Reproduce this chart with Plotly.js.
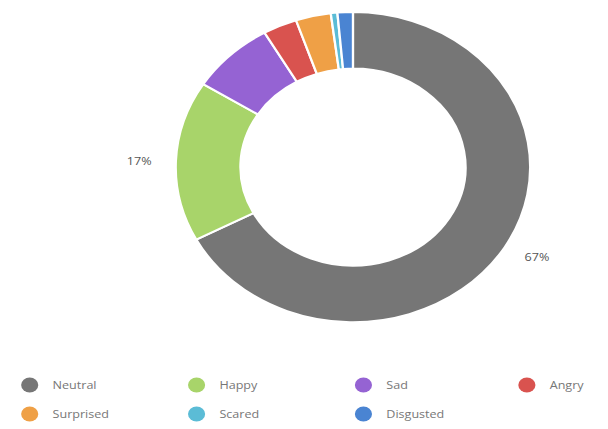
<!DOCTYPE html>
<html>
<head>
<meta charset="utf-8">
<script src="https://cdn.plot.ly/plotly-3.0.1.min.js"></script>
<style>
html,body{margin:0;padding:0;background:#fff;overflow:hidden;}
#chart{width:532px;height:429px;transform:scaleX(1.1429);transform-origin:0 0;}
</style>
</head>
<body>
<div id="chart"></div>
<script>
const labels = ["Neutral","Happy","Sad","Angry","Surprised","Scared","Disgusted"];
const values = [67.2,16.7,7.7,3.1,3.2,0.6,1.4];
const colors = ["#767676","#a8d46a","#9563d3","#d9534f","#efa046","#5bbcd6","#4a84d2"];
const showPct = [true,true,false,false,false,false,false];
// legend grid: column and row of each entry
const legCol = [0,1,2,3,0,1,2];
const legRow = [0,0,0,0,1,1,1];

const W = 532, H = 429;
const dom = {x:[0.289,0.872], y:[0.248,0.973]};
const pie = {
  type:"pie", labels:labels, values:values, sort:false, direction:"clockwise", rotation:0,
  hole:0.635,
  marker:{colors:colors, line:{color:"#ffffff", width:2}},
  textinfo:"none",
  showlegend:false, hoverinfo:"skip",
  domain:dom
};
const legendTraces = labels.map((l,i) => ({
  type:"scatter", mode:"markers", x:[null], y:[null], name:l,
  marker:{color:colors[i], size:15, symbol:"circle"},
  legend: i === 0 ? "legend" : "legend" + (i+1), hoverinfo:"skip"
}));

const layout = {
  width:W, height:H, margin:{l:0,r:0,t:0,b:0},
  paper_bgcolor:"#fff", plot_bgcolor:"#fff",
  xaxis:{visible:false}, yaxis:{visible:false},
  showlegend:true, annotations:[]
};
const colX = [26,172,318,461], rowY = [385,414];
labels.forEach((l,i) => {
  const key = i === 0 ? "legend" : "legend" + (i+1);
  layout[key] = {orientation:"h", xanchor:"left", yanchor:"middle",
    x:(colX[legCol[i]] - 20)/W, y:1 - rowY[legRow[i]]/H,
    font:{family:"Open Sans, sans-serif", size:11, color:"#777"},
    bgcolor:"rgba(0,0,0,0)"};
});

// percentage labels placed outside the mid-angle of each slice
const total = values.reduce((a,b)=>a+b,0);
const cx = (dom.x[0]+dom.x[1])/2*W, cy = (1-(dom.y[0]+dom.y[1])/2)*H;
const r = (dom.y[1]-dom.y[0])*H/2 - 4;
let cum = 0;
values.forEach((v,i) => {
  const mid = (cum + v/2)/total*2*Math.PI; cum += v;
  if (!showPct[i]) return;
  const d = r + 22;
  const px = cx + d*Math.sin(mid), py = cy - d*Math.cos(mid);
  layout.annotations.push({
    xref:"paper", yref:"paper", x:px/W, y:1-py/H,
    xanchor: Math.sin(mid) < 0 ? "right" : "left", yanchor:"middle",
    showarrow:false, text: Math.round(v/total*100) + "%",
    font:{family:"Open Sans, sans-serif", size:11, color:"#555"}
  });
});

Plotly.newPlot("chart", [pie, ...legendTraces], layout, {staticPlot:true});
</script>
</body>
</html>
